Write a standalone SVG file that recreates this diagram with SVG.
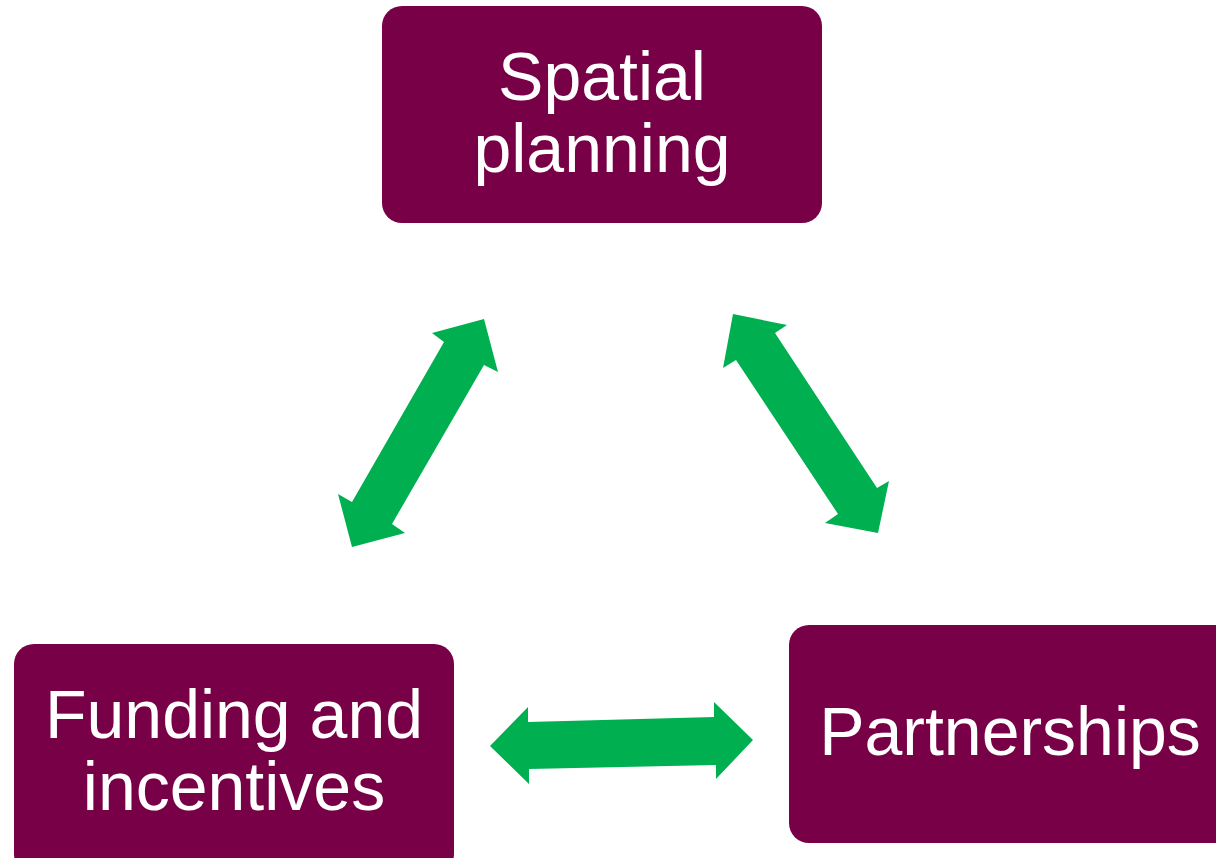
<svg xmlns="http://www.w3.org/2000/svg" width="1216" height="858" viewBox="0 0 1216 858">
<style>
.box{fill:#780046}
.lbl{font-family:"Liberation Sans",Arial,sans-serif;font-size:68px;fill:#ffffff;text-anchor:middle}
.arr{fill:#00B050}
</style>
<rect width="1216" height="858" fill="#ffffff"/>
<g id="connectors">
<polygon class="arr" points="484,319 498,372 484,365 392,524 405,533 352,547 338,494 352,502 444,342 432,333"/>
<polygon class="arr" points="733,314 787,325 775,333 877,488 889,481 878,533 825,523 838,514 736,360 723,368"/>
<polygon class="arr" points="490,746 528,707 528,722 714,717 714,702 753,740 716,779 716,765 529,769 529,784"/>
</g>
<g id="spatial-planning">
<rect class="box" x="382" y="6" width="440" height="217" rx="20"/>
<text class="lbl" x="602" y="100">Spatial</text>
<text class="lbl" x="602" y="172">planning</text>
</g>
<g id="funding-incentives">
<rect class="box" x="14" y="644" width="440" height="230" rx="20"/>
<text class="lbl" x="234" y="738">Funding and</text>
<text class="lbl" x="234" y="810">incentives</text>
</g>
<g id="partnerships">
<rect class="box" x="789" y="625" width="450" height="218" rx="20"/>
<text class="lbl" x="1010" y="755">Partnerships</text>
</g>
</svg>
